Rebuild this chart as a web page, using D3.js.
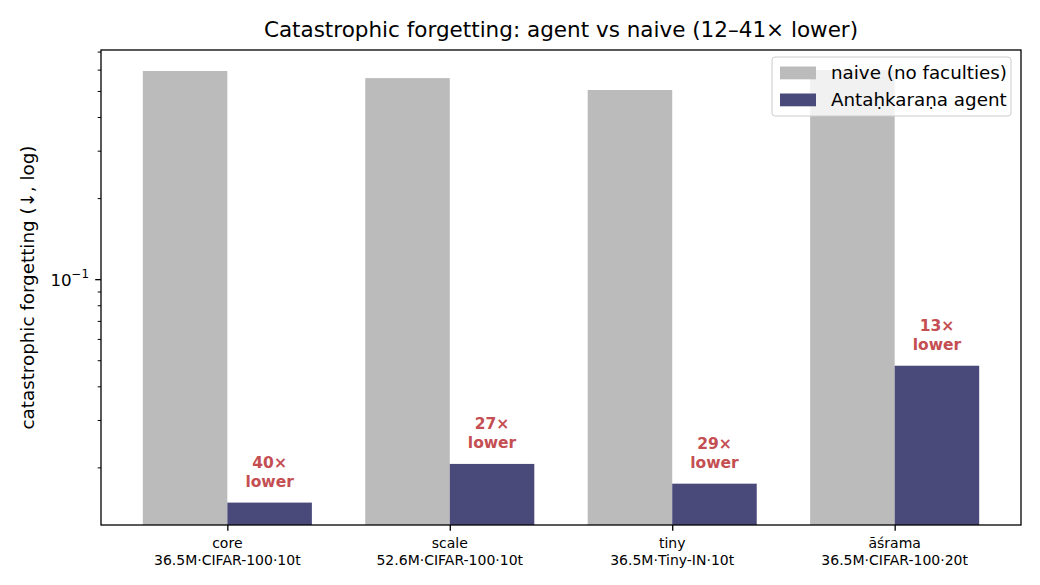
<!DOCTYPE html>
<html>
<head>
<meta charset="utf-8">
<script src="https://cdn.jsdelivr.net/npm/d3@7"></script>
<style>
  html, body { margin: 0; padding: 0; background: #fff; }
  svg { display: block; font-family: "DejaVu Sans", sans-serif; }
</style>
</head>
<body>
<svg id="chart" width="1040" height="585"></svg>
<script>
// Data
const categories = ["core", "scale", "tiny", "āśrama"];
const subLabels = ["36.5M·CIFAR-100·10t", "52.6M·CIFAR-100·10t", "36.5M·Tiny-IN·10t", "36.5M·CIFAR-100·20t"];
const naiveValues = [0.593, 0.558, 0.504, 0.598];
const agentValues = [0.0148, 0.0206, 0.0174, 0.0477];
const ratioLabels = ["40×", "27×", "29×", "13×"];
const seriesNames = ["naive (no faculties)", "Antaḥkaraṇa agent"];
const yMinorTicks = [0.02, 0.03, 0.04, 0.05, 0.06, 0.07, 0.08, 0.09, 0.2, 0.3, 0.4, 0.5, 0.6, 0.7];
const yMajorTicks = [0.1];

const colors = { naive: "#bbbbbb", agent: "#4a4a7a", note: "#c44e52" };

// Set dimensions and margins of the graph
let margin = {top: 50, right: 19, bottom: 60, left: 101},
    width = 1040 - margin.left - margin.right,
    height = 585 - margin.top - margin.bottom;

let svg = d3.select("#chart")
    .append("g")
    .attr("transform", "translate(" + margin.left + "," + margin.top + ")");

// Scales: categories at 0..3, bar width 0.38, 5% margins like matplotlib
const barW = 0.38;
let x = d3.scaleLinear().domain([-0.568, 3.568]).range([0, width]);
let y = d3.scaleLog().domain([0.01222, 0.7096]).range([height, 0]);

// Bars
svg.selectAll(".naive")
    .data(naiveValues)
    .enter().append("rect")
    .attr("class", "naive")
    .attr("x", (d, i) => x(i - barW))
    .attr("width", x(barW) - x(0))
    .attr("y", d => y(d))
    .attr("height", d => height - y(d))
    .attr("fill", colors.naive);

svg.selectAll(".agent")
    .data(agentValues)
    .enter().append("rect")
    .attr("class", "agent")
    .attr("x", (d, i) => x(i))
    .attr("width", x(barW) - x(0))
    .attr("y", d => y(d))
    .attr("height", d => height - y(d))
    .attr("fill", colors.agent);

// Ratio notes above agent bars
let notes = svg.selectAll(".note")
    .data(agentValues)
    .enter().append("text")
    .attr("class", "note")
    .attr("text-anchor", "middle")
    .attr("font-weight", "bold")
    .attr("font-size", 15.5)
    .attr("fill", colors.note);
notes.append("tspan")
    .attr("x", (d, i) => x(i + barW / 2))
    .attr("y", d => y(d) - 34.5)
    .text((d, i) => ratioLabels[i]);
notes.append("tspan")
    .attr("x", (d, i) => x(i + barW / 2))
    .attr("y", d => y(d) - 16)
    .text("lower");

// Y axis (log): major + minor ticks
let yMajor = d3.axisLeft(y).tickValues(yMajorTicks).tickSize(5.8).tickFormat("");
let yMinor = d3.axisLeft(y).tickValues(yMinorTicks).tickSize(3.3).tickFormat("");
svg.append("g").attr("class", "y axis").call(yMajor)
    .call(g => g.selectAll("line").attr("stroke-width", 1.3));
svg.append("g").attr("class", "y minor").call(yMinor)
    .call(g => g.selectAll("line").attr("stroke-width", 1));
svg.selectAll(".domain").remove();

// 10^-1 label
yMajorTicks.forEach(v => {
    let t = svg.append("text")
        .attr("x", -12)
        .attr("y", y(v) + 6.5)
        .attr("text-anchor", "end")
        .attr("font-size", 16.7)
        .attr("fill", "#000");
    t.append("tspan").text("10");
    t.append("tspan").attr("dy", -7.5).attr("font-size", 11.8).text("−" + Math.round(-Math.log10(v)));
});

// X axis
let xAxis = d3.axisBottom(x).tickValues(d3.range(categories.length)).tickSize(5.8).tickFormat("");
svg.append("g")
    .attr("class", "x axis")
    .attr("transform", "translate(0," + height + ")")
    .call(xAxis)
    .call(g => g.select(".domain").remove())
    .call(g => g.selectAll("line").attr("stroke-width", 1.3));

let xl = svg.selectAll(".xlab")
    .data(categories)
    .enter().append("text")
    .attr("class", "xlab")
    .attr("text-anchor", "middle")
    .attr("font-size", 14)
    .attr("fill", "#000");
xl.append("tspan")
    .attr("x", (d, i) => x(i))
    .attr("y", height + 22.5)
    .text(d => d);
xl.append("tspan")
    .attr("x", (d, i) => x(i))
    .attr("y", height + 39.5)
    .text((d, i) => subLabels[i]);

// Frame
svg.append("rect")
    .attr("width", width)
    .attr("height", height)
    .attr("fill", "none")
    .attr("stroke", "#000")
    .attr("stroke-width", 1.3);

// Y label
svg.append("text")
    .attr("transform", "translate(" + (-67) + "," + (height / 2) + ") rotate(-90)")
    .attr("text-anchor", "middle")
    .attr("font-size", 18.3)
    .text("catastrophic forgetting (↓, log)");

// Title
svg.append("text")
    .attr("x", width / 2)
    .attr("y", -13)
    .attr("text-anchor", "middle")
    .attr("font-size", 21.5)
    .text("Catastrophic forgetting: agent vs naive (12–41× lower)");

// Legend
let legend = svg.append("g").attr("transform", "translate(" + (width - 249) + ",7)");
legend.append("rect")
    .attr("width", 239)
    .attr("height", 59)
    .attr("rx", 3)
    .attr("fill", "#fff")
    .attr("fill-opacity", 0.8)
    .attr("stroke", "#cccccc")
    .attr("stroke-width", 1);
[colors.naive, colors.agent].forEach((c, i) => {
    legend.append("rect")
        .attr("x", 8)
        .attr("y", 9.5 + i * 27)
        .attr("width", 36)
        .attr("height", 12.8)
        .attr("fill", c);
    legend.append("text")
        .attr("x", 59)
        .attr("y", 21.5 + i * 27)
        .attr("font-size", 18.3)
        .text(seriesNames[i]);
});
</script>
</body>
</html>
